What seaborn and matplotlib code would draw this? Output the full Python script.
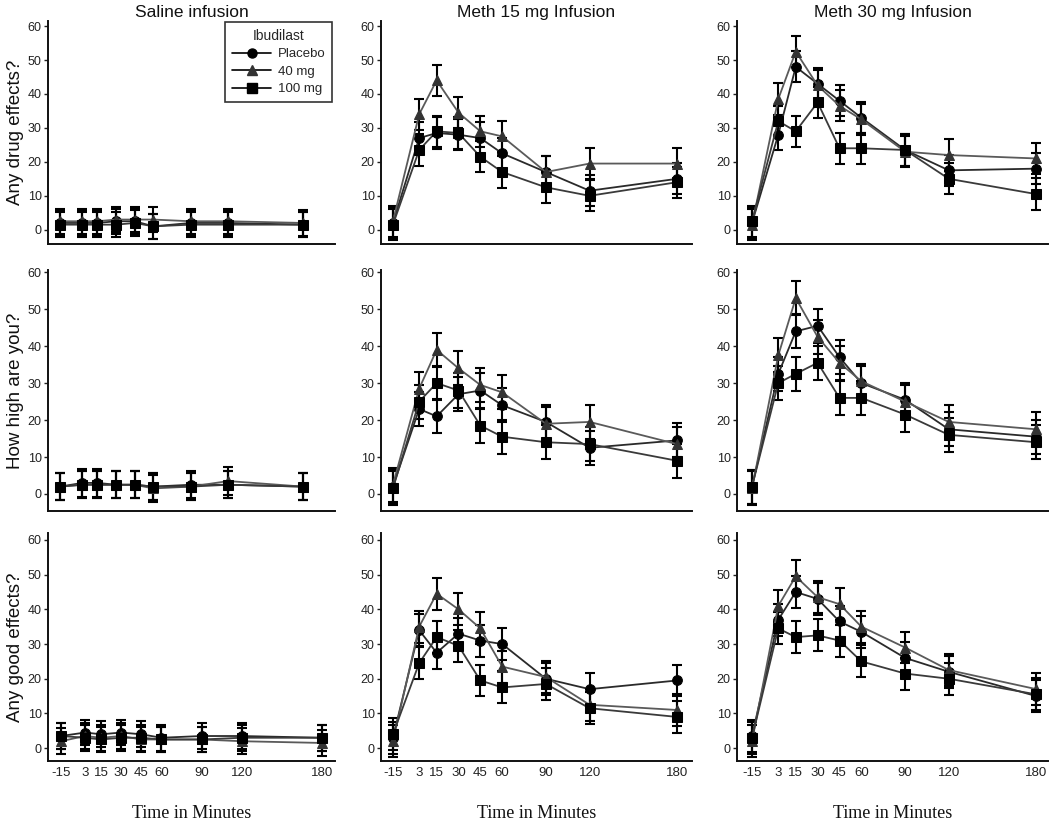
import numpy as np
import pandas as pd
import matplotlib
matplotlib.use("Agg")
import matplotlib.pyplot as plt
from matplotlib.lines import Line2D
import seaborn as sns

sns.set_theme(style="ticks")
plt.rcParams['font.family'] = ['Liberation Sans', 'DejaVu Sans']

# ---------------- data ----------------
times = [-15, 3, 15, 30, 45, 60, 90, 120, 180]
tick_labels = ["-15", "3", "15", "30", "45", "60", "90", "120", "180"]
groups = ["Placebo", "40 mg", "100 mg"]
col_titles = ["Saline infusion", "Meth 15 mg Infusion", "Meth 30 mg Infusion"]
row_labels = ["Any drug effects?", "How high are you?", "Any good effects?"]

# Any drug effects?
drug_sal_pla = [2, 2, 2, 2.5, 2.5, 1, 2, 2, 1.5]
drug_sal_40 = [2.5, 2.5, 2.5, 3, 3, 3, 2.5, 2.5, 2]
drug_sal_100 = [1.5, 1.5, 1.5, 1.5, 2, 1, 1.5, 1.5, 1.5]
drug_m15_pla = [2, 27, 28.5, 28, 27, 22.5, 17, 11.5, 15]
drug_m15_40 = [2.5, 34, 44, 34.5, 29, 27.5, 17, 19.5, 19.5]
drug_m15_100 = [1.5, 23.5, 29, 28.5, 21.5, 17, 12.5, 10, 14]
drug_m30_pla = [2, 28, 48, 43, 38, 33, 23.5, 17.5, 18]
drug_m30_40 = [1.5, 38.5, 52.5, 42.5, 36.5, 32.5, 23, 22, 21]
drug_m30_100 = [2.5, 32, 29, 37.5, 24, 24, 23.5, 15, 10.5]

# How high are you?
high_sal_pla = [2, 3, 3, 2.5, 2.5, 2, 2.5, 2.5, 2]
high_sal_40 = [2, 2.5, 2.5, 2.5, 2.5, 1.5, 2, 3.5, 2]
high_sal_100 = [2, 2.5, 2.5, 2.5, 2.5, 2, 2, 2.5, 2]
high_m15_pla = [2, 23, 21, 27, 28, 24, 19.5, 12.5, 14.5]
high_m15_40 = [2.5, 28.5, 39, 34, 29.5, 27.5, 19, 19.5, 13.5]
high_m15_100 = [1.5, 25, 30, 28, 18.5, 15.5, 14, 13.5, 9]
high_m30_pla = [2, 32.5, 44, 45.5, 37, 30, 25.5, 17.5, 15.5]
high_m30_40 = [1.5, 37.5, 53, 42.5, 35.5, 30.5, 25, 19.5, 17.5]
high_m30_100 = [2, 30, 32.5, 35.5, 26, 26, 21.5, 16, 14]

# Any good effects?
good_sal_pla = [3.5, 4.5, 4, 4.5, 4, 3, 3.5, 3.5, 3]
good_sal_40 = [2, 3.5, 3, 3.5, 2.5, 2.5, 2.5, 2, 1.5]
good_sal_100 = [3.5, 3, 2.5, 3, 3, 2.5, 2.5, 3, 3]
good_m15_pla = [3, 34, 27.5, 33, 31, 30, 20, 17, 19.5]
good_m15_40 = [2, 35, 44.5, 40, 34.5, 23.5, 20.5, 12.5, 11]
good_m15_100 = [4, 24.5, 32, 29.5, 19.5, 17.5, 18.5, 11.5, 9]
good_m30_pla = [3.5, 37, 45, 43, 36.5, 33.5, 26, 22, 15]
good_m30_40 = [2, 41, 49.5, 43.5, 41.5, 35, 29, 22.5, 17]
good_m30_100 = [3, 34.5, 32, 32.5, 31, 25, 21.5, 20, 15.5]

# standard errors (approximate half-length of error bars)
sem_saline = 3.7
sem_meth = 4.6

panels = [
    [(drug_sal_pla, drug_sal_40, drug_sal_100),
     (drug_m15_pla, drug_m15_40, drug_m15_100),
     (drug_m30_pla, drug_m30_40, drug_m30_100)],
    [(high_sal_pla, high_sal_40, high_sal_100),
     (high_m15_pla, high_m15_40, high_m15_100),
     (high_m30_pla, high_m30_40, high_m30_100)],
    [(good_sal_pla, good_sal_40, good_sal_100),
     (good_m15_pla, good_m15_40, good_m15_100),
     (good_m30_pla, good_m30_40, good_m30_100)],
]

# ---------------- styling ----------------
markers = {"Placebo": "o", "40 mg": "^", "100 mg": "s"}
line_colors = {"Placebo": "#2a2a2a", "40 mg": "#5a5a5a", "100 mg": "#3a3a3a"}
marker_colors = {"Placebo": "#000000", "40 mg": "#333333", "100 mg": "#000000"}

fig = plt.figure(figsize=(10.5, 8.21), dpi=100)
W, H = 1050, 821
col_x = [(48, 287), (381, 311), (737, 311)]
row_y = [(21, 244), (270, 511), (533, 761)]
xlims = [[(-24.6, 205.7), (-23.2, 190.3), (-25.3, 188.0)],
         [(-24.6, 205.7), (-23.2, 190.3), (-25.3, 188.0)],
         [(-24.7, 189.7), (-23.2, 190.3), (-25.3, 188.0)]]
ylims = [(-4.2, 61.5), (-4.6, 60.6), (-3.7, 62.0)]

axes = []
for r in range(3):
    for c in range(3):
        x0, w = col_x[c]
        yt, yb = row_y[r]
        ax = fig.add_axes([x0 / W, 1 - yb / H, w / W, (yb - yt) / H])
        axes.append(ax)
        series = panels[r][c]
        rows = []
        for g, vals in zip(groups, series):
            for t, v in zip(times, vals):
                rows.append({"time": t, "value": v, "group": g})
        df = pd.DataFrame(rows)
        sem = sem_saline if c == 0 else sem_meth
        for g in groups:
            d = df[df.group == g]
            ax.errorbar(d["time"], d["value"], yerr=sem, fmt="none",
                        ecolor="black", elinewidth=1.5, capsize=3.5,
                        capthick=1.5, zorder=2)
        for g in groups:
            d = df[df.group == g]
            sns.lineplot(data=d, x="time", y="value", ax=ax,
                         color=line_colors[g], lw=1.3, marker=markers[g],
                         markersize=7.5 if g != "Placebo" else 7,
                         markerfacecolor=marker_colors[g],
                         markeredgecolor=marker_colors[g],
                         legend=False, zorder=3, errorbar=None)
        ax.set_xlim(*xlims[r][c])
        ax.set_ylim(*ylims[r])
        ax.set_yticks([0, 10, 20, 30, 40, 50, 60])
        ax.tick_params(axis="y", labelsize=9, length=3, width=1, pad=1.5,
                       colors="#222222")
        if r == 2:
            ax.set_xticks(times)
            ax.set_xticklabels(tick_labels)
            ax.tick_params(axis="x", labelsize=9.5, length=0, pad=4,
                           colors="#222222")
            ax.set_xlabel("Time in Minutes", family="Liberation Serif",
                          fontsize=13, labelpad=19, color="#111111")
        else:
            ax.set_xticks([])
            ax.set_xlabel("")
        if c == 0:
            ax.set_ylabel(row_labels[r], fontsize=13.5, labelpad=3,
                          color="#111111")
        else:
            ax.set_ylabel("")
        if r == 0:
            ax.set_title(col_titles[c], fontsize=12.5, pad=3, color="#111111")
        sns.despine(ax=ax)
        for s in ["left", "bottom"]:
            ax.spines[s].set_linewidth(1.4)
            ax.spines[s].set_color("#111111")

# legend in first panel
handles = [Line2D([0], [0], color="black", lw=1.2, marker=markers[g],
                  markersize=6.5, markerfacecolor=marker_colors[g],
                  markeredgecolor=marker_colors[g]) for g in groups]
leg = axes[0].legend(handles, groups, title="Ibudilast", loc="upper right",
                     bbox_to_anchor=(0.995, 1.0), fontsize=9.5,
                     title_fontsize=10, frameon=True, fancybox=False,
                     handlelength=3.0, borderpad=0.5, labelspacing=0.4,
                     handletextpad=0.5, borderaxespad=0.1)
leg.get_frame().set_edgecolor("black")
leg.get_frame().set_linewidth(1.2)

fig.savefig("out.png", dpi=100)
